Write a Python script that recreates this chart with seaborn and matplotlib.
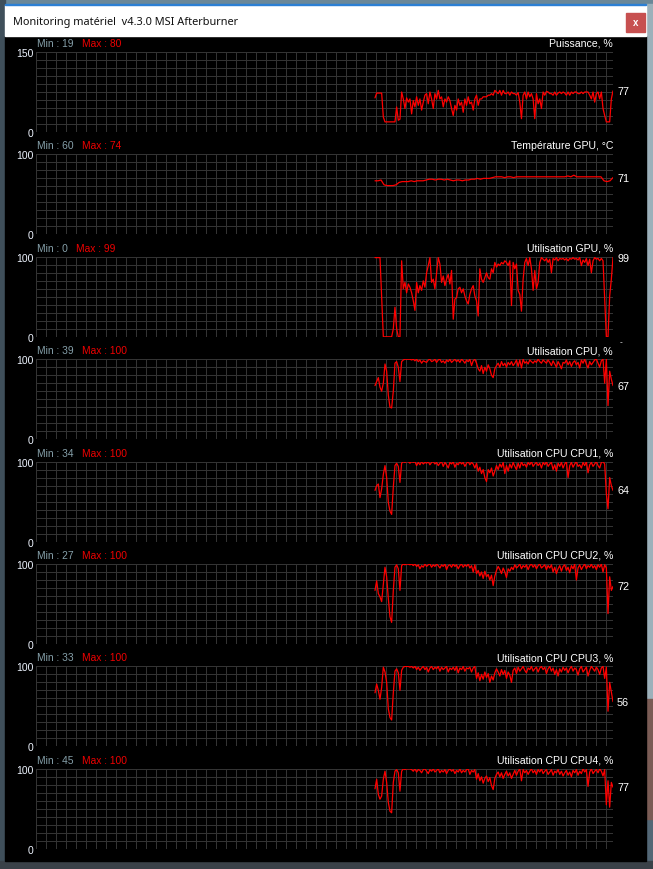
import matplotlib
matplotlib.use("Agg")
import matplotlib.pyplot as plt
from matplotlib.patches import Rectangle
import numpy as np
import seaborn as sns

# --- data ---
panel_names = [
    "Puissance, %", "Température GPU, °C", "Utilisation GPU, %", "Utilisation CPU, %",
    "Utilisation CPU CPU1, %", "Utilisation CPU CPU2, %", "Utilisation CPU CPU3, %",
    "Utilisation CPU CPU4, %",
]
y_max = [150, 100, 100, 100, 100, 100, 100, 100]
min_vals = [19, 60, 0, 39, 34, 27, 33, 45]
max_vals = [80, 74, 99, 100, 100, 100, 100, 100]
cur_vals = [77, 71, 99, 67, 64, 72, 56, 77]

VIEW_SECONDS = 577      # width of the history window
HISTORY_START = 339     # time at which recording started inside the window

power = [64, 73, 73, 73, 73, 28, 19, 19, 19, 19, 19, 19, 19, 47, 22, 24, 75, 62, 44, 64, 56, 62, 34,
         59, 47, 66, 50, 62, 41, 56, 69, 72, 53, 75, 62, 44, 72, 62, 78, 62, 66, 47, 62, 56, 66, 59,
         44, 31, 50, 41, 62, 50, 56, 37, 62, 50, 66, 53, 56, 41, 62, 69, 50, 62, 62, 66, 66, 66, 69,
         69, 72, 69, 78, 75, 72, 78, 69, 78, 72, 72, 75, 69, 75, 72, 72, 69, 74, 56, 25, 69, 75, 62,
         75, 66, 72, 62, 25, 72, 53, 62, 44, 75, 69, 76, 75, 72, 72, 69, 75, 69, 73, 75, 72, 75, 73,
         69, 75, 69, 75, 72, 75, 75, 72, 72, 75, 72, 75, 75, 75, 69, 62, 75, 56, 72, 75, 62, 75, 44,
         31, 19, 19, 19, 62, 77]
gpu_temp = [67, 67, 68, 62, 61, 61, 61, 62, 65, 66, 66, 66, 67, 66, 67, 67, 67, 68, 69, 69, 68, 69,
            69, 68, 69, 68, 67, 68, 68, 67, 68, 68, 69, 69, 70, 69, 70, 70, 70, 71, 72, 72, 72, 71,
            72, 72, 71, 72, 72, 72, 72, 72, 72, 72, 72, 72, 72, 72, 72, 72, 72, 72, 72, 72, 73, 72,
            74, 72, 72, 72, 72, 72, 72, 72, 72, 72, 67, 66, 67, 71]
gpu_usage = [99, 99, 99, 99, 51, 0, 0, 0, 0, 0, 0, 10, 37, 10, 0, 0, 95, 60, 68, 55, 66, 62, 55, 45,
             33, 68, 55, 64, 58, 70, 62, 80, 89, 99, 68, 72, 60, 80, 99, 91, 68, 76, 64, 72, 78, 66,
             83, 22, 47, 49, 60, 62, 55, 60, 51, 45, 41, 53, 60, 64, 51, 45, 26, 85, 72, 68, 74, 80,
             74, 72, 85, 80, 93, 87, 91, 89, 93, 91, 95, 93, 89, 95, 39, 93, 85, 91, 58, 53, 32, 72,
             93, 98, 89, 99, 85, 58, 83, 60, 68, 93, 99, 97, 95, 98, 93, 97, 80, 98, 96, 99, 95, 98,
             97, 98, 96, 98, 95, 98, 97, 99, 97, 98, 96, 99, 89, 96, 93, 98, 89, 97, 80, 95, 99, 97,
             98, 95, 98, 95, 47, 0, 0, 51, 72, 99]
cpu = [67, 72, 77, 65, 60, 70, 94, 85, 55, 40, 39, 60, 95, 97, 90, 72, 97, 99, 100, 100, 100, 100,
       99, 100, 98, 100, 97, 99, 95, 98, 97, 96, 99, 100, 97, 98, 100, 96, 99, 100, 96, 98, 95, 99,
       97, 100, 96, 98, 100, 97, 99, 96, 100, 98, 95, 99, 97, 100, 92, 98, 100, 95, 88, 85, 92, 82,
       90, 85, 93, 88, 80, 77, 88, 92, 95, 90, 97, 92, 95, 90, 96, 93, 97, 92, 95, 99, 91, 99, 89,
       100, 95, 97, 94, 99, 97, 95, 98, 96, 100, 97, 95, 99, 97, 95, 99, 96, 92, 98, 94, 90, 97, 93,
       88, 96, 95, 99, 93, 97, 91, 96, 98, 93, 96, 89, 99, 95, 100, 94, 89, 97, 93, 96, 99, 100, 95,
       90, 98, 100, 70, 100, 42, 85, 75, 67]
cpu1 = [64, 70, 72, 55, 66, 84, 95, 80, 49, 38, 34, 68, 95, 98, 94, 74, 98, 100, 99, 100, 100, 98,
        100, 99, 100, 95, 99, 96, 100, 97, 99, 98, 100, 96, 99, 100, 97, 99, 95, 98, 100, 94, 99, 96,
        92, 99, 97, 100, 93, 98, 96, 100, 97, 99, 94, 98, 100, 96, 99, 97, 92, 98, 88, 93, 85, 90,
        80, 75, 90, 86, 92, 82, 88, 95, 90, 97, 93, 99, 85, 95, 88, 97, 92, 99, 94, 90, 98, 92, 100,
        95, 97, 93, 99, 96, 100, 94, 97, 99, 95, 98, 92, 99, 96, 100, 94, 97, 99, 90, 96, 88, 98, 94,
        99, 92, 97, 100, 80, 95, 99, 93, 97, 100, 94, 96, 92, 99, 95, 100, 86, 96, 99, 94, 97, 100,
        95, 92, 99, 100, 97, 60, 41, 80, 70, 64]
cpu2 = [67, 79, 63, 59, 53, 75, 96, 84, 57, 34, 27, 67, 96, 99, 94, 67, 98, 100, 99, 100, 100, 99,
        100, 98, 100, 97, 99, 94, 98, 96, 100, 97, 99, 100, 96, 99, 97, 100, 98, 95, 99, 97, 100, 93,
        98, 99, 96, 100, 97, 99, 94, 98, 100, 96, 99, 97, 100, 95, 98, 90, 99, 88, 92, 85, 90, 82,
        91, 84, 87, 80, 86, 73, 85, 92, 97, 93, 88, 95, 90, 83, 94, 91, 96, 93, 99, 95, 97, 100, 94,
        98, 96, 99, 93, 98, 100, 96, 99, 94, 98, 100, 95, 97, 99, 93, 98, 95, 99, 90, 96, 88, 94, 98,
        91, 97, 99, 92, 96, 89, 98, 94, 100, 80, 95, 99, 93, 97, 100, 94, 98, 96, 100, 95, 98, 93,
        99, 96, 100, 90, 99, 95, 38, 84, 67, 72]
cpu3 = [67, 78, 70, 59, 74, 99, 93, 80, 47, 36, 33, 67, 94, 97, 92, 70, 95, 99, 100, 100, 100, 99,
        100, 98, 100, 96, 99, 95, 98, 100, 96, 99, 93, 98, 100, 96, 99, 97, 100, 94, 99, 96, 98, 100,
        93, 98, 96, 99, 95, 100, 92, 98, 96, 100, 94, 98, 97, 99, 93, 98, 100, 85, 92, 82, 90, 84,
        93, 86, 91, 80, 88, 83, 92, 97, 93, 88, 96, 90, 95, 85, 93, 89, 80, 95, 98, 91, 99, 94, 97,
        100, 95, 92, 98, 96, 100, 94, 97, 99, 93, 98, 100, 96, 99, 91, 97, 100, 94, 98, 90, 96, 88,
        97, 93, 99, 95, 98, 92, 97, 100, 94, 98, 96, 89, 97, 100, 93, 96, 99, 88, 95, 100, 97, 94,
        99, 96, 90, 98, 100, 85, 99, 44, 80, 68, 56]
cpu4 = [75, 87, 68, 62, 66, 87, 97, 83, 58, 47, 45, 83, 97, 99, 95, 72, 97, 100, 99, 100, 100, 100,
        99, 97, 100, 96, 99, 98, 95, 99, 100, 97, 94, 99, 97, 100, 96, 98, 100, 95, 98, 96, 99, 94,
        98, 100, 97, 99, 94, 98, 96, 100, 95, 98, 96, 99, 100, 93, 98, 96, 99, 87, 94, 85, 90, 82,
        88, 91, 84, 89, 79, 74, 88, 93, 96, 90, 95, 88, 93, 97, 91, 95, 88, 93, 98, 92, 97, 100, 85,
        99, 95, 98, 93, 97, 100, 95, 98, 93, 99, 96, 100, 94, 97, 99, 93, 96, 99, 92, 97, 95, 99, 93,
        97, 91, 95, 98, 92, 96, 90, 98, 95, 99, 92, 97, 94, 100, 96, 99, 78, 96, 100, 94, 97, 99, 95,
        100, 97, 91, 99, 55, 85, 52, 83, 77]
series = [power, gpu_temp, gpu_usage, cpu, cpu1, cpu2, cpu3, cpu4]

# --- layout (pixels of the 653x870 screenshot) ---
W, H = 653, 870
def fx(x): return x / W
def fy(y): return 1 - y / H

sns.set_theme(style="dark", rc={"axes.facecolor": "black", "savefig.facecolor": "#536776"})
plt.rcParams["font.family"] = ["Liberation Sans", "DejaVu Sans"]

fig = plt.figure(figsize=(W / 100, H / 100), dpi=100, facecolor="#536776")

# window frame, title bar and close button (drawn under the axes)
def win_rect(x, y, w, h, color):
    fig.patches.append(Rectangle((fx(x), fy(y + h)), w / W, h / H, transform=fig.transFigure,
                                 color=color, zorder=-1))

win_rect(0, 0, 653, 5, "#6a8798")
win_rect(0, 0, 5, 870, "#3f4f5a")
win_rect(646, 5, 7, 695, "#9cb0ba")
win_rect(646, 700, 7, 120, "#7a5c55")
win_rect(0, 862, 653, 8, "#3a4148")
win_rect(5, 37, 641, 825, "black")
win_rect(5, 6, 641, 31, "white")
win_rect(5, 5, 641, 1.2, "#2b7fd4")
win_rect(626, 14, 19, 19, "#c75050")
fig.text(fx(635.5), fy(23.5), "x", color="white", fontsize=7, fontweight="bold", ha="center", va="center")
fig.text(fx(13), fy(22.5), "Monitoring matériel  v4.3.0 MSI Afterburner", color="#111111", fontsize=7.9,
         family=["Noto Sans", "DejaVu Sans"], va="center")

renderer = fig.canvas.get_renderer()
for i, (name, vals) in enumerate(zip(panel_names, series)):
    top = 53 + 102.4 * i
    ax = fig.add_axes([fx(36), fy(top + 80), 577 / W, 80 / H])
    ax.set_zorder(2)
    t = np.linspace(HISTORY_START, VIEW_SECONDS, len(vals))
    sns.lineplot(x=t, y=vals, ax=ax, color="#ff0000", linewidth=0.9, sort=False)
    ax.set_xlim(0, VIEW_SECONDS)
    ax.set_ylim(0, y_max[i])
    ax.set_xticks(np.arange(0, VIEW_SECONDS, 10))
    ax.set_xticklabels([])
    ax.set_yticks(np.linspace(0, y_max[i], 11))
    ax.set_yticklabels(["0"] + [""] * 9 + [str(y_max[i])])
    ax.tick_params(length=0, pad=2, labelsize=7.5, labelcolor="#eef4ff")
    ax.grid(True, color="#333333", linewidth=0.72)
    ax.set_axisbelow(True)
    for s in ax.spines.values():
        s.set_visible(False)
    ax.set_xlabel(""); ax.set_ylabel("")

    tm = fig.text(fx(37), fy(top - 9), f"Min : {min_vals[i]}", color="#86a0aa", fontsize=7.4, va="center")
    x1 = tm.get_window_extent(renderer).x1
    fig.text((x1 + 8) / W, fy(top - 9), f"Max : {max_vals[i]}", color="#ee0000", fontsize=7.4, va="center")
    fig.text(fx(613), fy(top - 9), name, color="white", fontsize=7.6, ha="right", va="center")
    ax.text(1.007, cur_vals[i], str(cur_vals[i]), transform=ax.get_yaxis_transform(),
            color="white", fontsize=7.8, va="center", clip_on=False)

fig.text(fx(621), fy(343), "-", color="white", fontsize=6, ha="center", va="center")

fig.savefig("out.png", dpi=100)
